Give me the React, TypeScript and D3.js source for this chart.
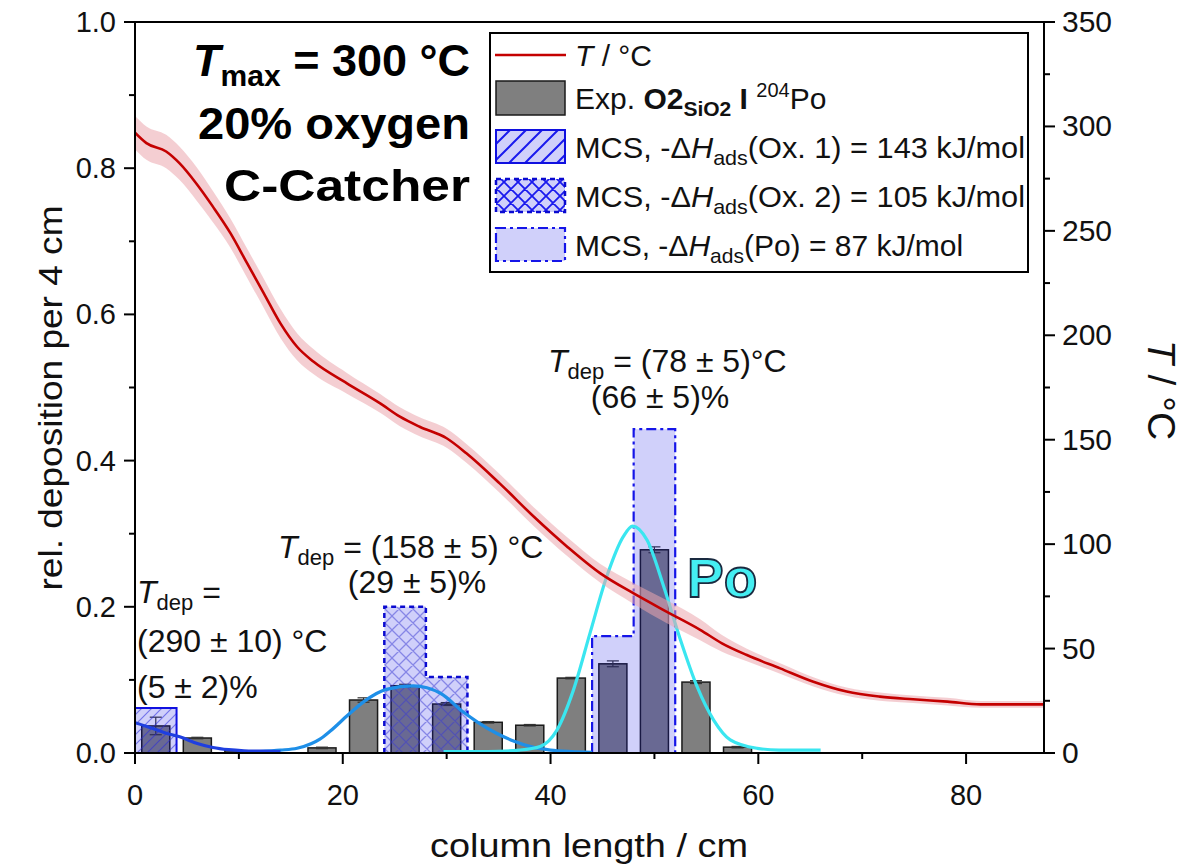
import React from 'react';
import * as d3 from 'd3';

// ---------- data ----------
const xTicks = [0, 20, 40, 60, 80];
const xMinorTicks = [10, 30, 50, 70];
const yTicks = [0, 0.2, 0.4, 0.6, 0.8, 1.0];
const yMinorTicks = [0.1, 0.3, 0.5, 0.7, 0.9];
const tTicks = [0, 50, 100, 150, 200, 250, 300, 350];
const tMinorTicks = [25, 75, 125, 175, 225, 275, 325];

const expCenters = [2, 6, 10, 18, 22, 26, 30, 34, 38, 42, 46, 50, 54, 58];
const expValues = [0.037, 0.0205, 0.003, 0.007, 0.0725, 0.092, 0.067, 0.042, 0.038, 0.1025, 0.122, 0.278, 0.097, 0.008];
const expErrors = [0.012, 0.001, 0, 0.001, 0.003, 0.002, 0.002, 0.001, 0.001, 0.001, 0.004, 0.004, 0.002, 0.001];

const binWidth = 4;
const ox1Starts = [0];
const ox1Values = [0.0616];
const ox2Starts = [24, 28];
const ox2Values = [0.2, 0.104];
const poStarts = [44, 48];
const poValues = [0.16, 0.443];

const tX = [0, 1.1, 3, 4.3, 5.9, 7.5, 9.2, 10.8, 12.4, 14, 15.6, 17.2, 20.4, 23.6, 25.5, 27.4, 30, 31.9, 35.1, 38.4, 41.6, 44.8, 48, 51.2, 54.4, 56.5, 58.9, 62.1, 65.3, 68.5, 71.7, 74.9, 78.2, 81.4, 84.6, 87.5];
const tY = [297, 292, 288, 282.3, 272.7, 261.6, 248.8, 234.4, 220.1, 205.7, 194.5, 187.3, 177, 167.4, 161, 156.2, 150.7, 143.5, 129.1, 113.1, 98.8, 86, 76.4, 67.6, 59, 52.5, 46.9, 40.5, 34.1, 29.4, 27, 25.7, 24.6, 23.3, 23.3, 23.3];
const tErr = [8, 8, 8, 8, 8, 7.5, 7, 7, 7, 7, 6.5, 6, 5, 4.5, 4.5, 4.5, 4.5, 4.5, 4.5, 4.5, 4.5, 4.5, 5, 5.5, 5, 4, 3, 2.5, 2.2, 2, 2, 1.8, 1.8, 1.6, 1.6, 1.6];

const ox1CurveX = [0, 1, 2, 3, 4.3, 6, 7.5, 9, 10.5, 12, 14];
const ox1CurveY = [0.0415, 0.037, 0.032, 0.027, 0.0222, 0.013, 0.0075, 0.0045, 0.003, 0.0025, 0.002];
const ox2CurveX = [12, 14, 15.6, 17, 17.8, 18.8, 20.5, 22, 24.2, 26.8, 29.4, 31.6, 33, 34.8, 36.5, 38, 40, 42, 44];
const ox2CurveY = [0.002, 0.004, 0.0065, 0.013, 0.019, 0.03, 0.052, 0.07, 0.087, 0.0917, 0.0817, 0.056, 0.042, 0.027, 0.016, 0.009, 0.004, 0.002, 0.001];
const poCurveX = [29.7, 34, 37, 39, 40.6, 42.2, 43.8, 45.4, 47, 47.9, 49.3, 50.9, 52.5, 54.1, 55.7, 57.3, 59.9, 62, 66];
const poCurveY = [0.002, 0.002, 0.004, 0.009, 0.031, 0.086, 0.164, 0.241, 0.296, 0.3105, 0.291, 0.2275, 0.155, 0.091, 0.045, 0.018, 0.0064, 0.004, 0.004];

// ---------- layout ----------
const W = 1185, H = 868;
const L = 135, R = 1044, T = 22, B = 753;
const FONT = "'Liberation Sans', Arial, Helvetica, sans-serif";
const NARROW = "'Liberation Sans Narrow', 'Liberation Sans', Arial, sans-serif";

const x = d3.scaleLinear().domain([0, 87.5]).range([L, R]);
const y = d3.scaleLinear().domain([0, 1]).range([B, T]);
const yT = d3.scaleLinear().domain([0, 350]).range([B, T]);

function stepPath(starts: number[], values: number[], closed: boolean) {
  const pts: [number, number][] = [];
  pts.push([starts[0], 0]);
  starts.forEach((s, i) => {
    pts.push([s, values[i]]);
    pts.push([s + binWidth, values[i]]);
  });
  pts.push([starts[starts.length - 1] + binWidth, 0]);
  const d = pts.map((p, i) => `${i ? 'L' : 'M'}${x(p[0])},${y(p[1])}`).join('');
  return closed ? d + 'Z' : d;
}

const curveLine = d3.line<[number, number]>().x(d => x(d[0])).y(d => y(d[1])).curve(d3.curveMonotoneX);
const zip = (a: number[], b: number[]) => a.map((v, i) => [v, b[i]] as [number, number]);

const tLine = d3.line<number>().x((_, i) => x(tX[i])).y((d) => yT(d)).curve(d3.curveMonotoneX);
const tArea = d3.area<number>().x((_, i) => x(tX[i])).y0((d, i) => yT(d - tErr[i])).y1((d, i) => yT(d + tErr[i])).curve(d3.curveMonotoneX);

const MCS_FILL = 'rgba(20,20,230,0.2)';

export default function App() {
  const expBarW = 2.7;
  return (
    <svg width={W} height={H} style={{ position: 'absolute', left: 0, top: 0, background: '#fff' }} fontFamily={FONT}>
      <defs>
        <clipPath id="plot"><rect x={L} y={T} width={R - L} height={B - T} /></clipPath>
        <pattern id="diag" patternUnits="userSpaceOnUse" width="10" height="10">
          <path d="M0,10 L10,0 M-2,2 L2,-2 M8,12 L12,8" stroke="rgba(40,40,220,0.55)" strokeWidth="1.2" />
        </pattern>
        <pattern id="cross" patternUnits="userSpaceOnUse" width="14" height="14">
          <path d="M0,14 L14,0 M-2,2 L2,-2 M12,16 L16,12 M0,0 L14,14 M-2,12 L2,16 M12,-2 L16,2" stroke="rgba(60,60,210,0.5)" strokeWidth="1.3" />
        </pattern>
        <pattern id="diagL" patternUnits="userSpaceOnUse" width="16" height="16">
          <path d="M0,16 L16,0 M-3,3 L3,-3 M13,19 L19,13" stroke="#1a1aee" strokeWidth="2" />
        </pattern>
        <pattern id="crossL" patternUnits="userSpaceOnUse" width="14" height="14">
          <path d="M0,14 L14,0 M-2,2 L2,-2 M12,16 L16,12 M0,0 L14,14 M-2,12 L2,16 M12,-2 L16,2" stroke="#1a1aee" strokeWidth="1.8" />
        </pattern>
      </defs>

      <g clipPath="url(#plot)">
        {/* experimental bars */}
        {expCenters.map((c, i) => (
          <rect key={'b' + i} x={x(c - expBarW / 2)} y={y(expValues[i])} width={x(c + expBarW / 2) - x(c - expBarW / 2)} height={B - y(expValues[i])} fill="#7f7f7f" stroke="#1a1a1a" strokeWidth={1.5} />
        ))}
        {expCenters.map((c, i) => expErrors[i] > 0 ? (
          <g key={'e' + i} stroke="#333" strokeWidth={1.2}>
            <line x1={x(c)} x2={x(c)} y1={y(expValues[i] - expErrors[i])} y2={y(expValues[i] + expErrors[i])} />
            <line x1={x(c) - 6} x2={x(c) + 6} y1={y(expValues[i] + expErrors[i])} y2={y(expValues[i] + expErrors[i])} />
            <line x1={x(c) - 6} x2={x(c) + 6} y1={y(expValues[i] - expErrors[i])} y2={y(expValues[i] - expErrors[i])} />
          </g>
        ) : null)}

        {/* MCS histograms */}
        <path d={stepPath(ox1Starts, ox1Values, true)} fill={MCS_FILL} />
        <path d={stepPath(ox1Starts, ox1Values, true)} fill="url(#diag)" />
        <path d={stepPath(ox1Starts, ox1Values, false)} fill="none" stroke="#1010e0" strokeWidth={2} />

        <path d={stepPath(ox2Starts, ox2Values, true)} fill={MCS_FILL} />
        <path d={stepPath(ox2Starts, ox2Values, true)} fill="url(#cross)" />
        <path d={stepPath(ox2Starts, ox2Values, false)} fill="none" stroke="#0a0ad0" strokeWidth={2.5} strokeDasharray="5,4" />

        <path d={stepPath(poStarts, poValues, true)} fill={MCS_FILL} />
        <path d={stepPath(poStarts, poValues, false)} fill="none" stroke="#1515e8" strokeWidth={2.2} strokeDasharray="10,4,3,4" />

        {/* fitted curves */}
        <path d={curveLine(zip(ox2CurveX, ox2CurveY)) || ''} fill="none" stroke="#1e8fe8" strokeWidth={3.2} />
        <path d={curveLine(zip(ox1CurveX, ox1CurveY)) || ''} fill="none" stroke="#1f3fe0" strokeWidth={3.2} />
        <path d={curveLine(zip(poCurveX, poCurveY)) || ''} fill="none" stroke="#3ae6f0" strokeWidth={3.2} />

        {/* temperature */}
        <path d={tArea(tY) || ''} fill="#eba5ad" opacity={0.55} />
        <path d={tLine(tY) || ''} fill="none" stroke="#c40000" strokeWidth={2.6} />
      </g>

      {/* frame */}
      <line x1={L} x2={R} y1={T} y2={T} stroke="#000" strokeWidth={2} />
      <line x1={L} x2={R} y1={B} y2={B} stroke="#000" strokeWidth={2} />
      <line x1={L} x2={L} y1={T} y2={B} stroke="#000" strokeWidth={2} />
      <line x1={R} x2={R} y1={T} y2={B} stroke="#000" strokeWidth={2} />

      {/* left axis */}
      {yTicks.map(v => (
        <g key={'yt' + v}>
          <line x1={L - 11} x2={L} y1={y(v)} y2={y(v)} stroke="#000" strokeWidth={2} />
          <text x={L - 19} y={y(v) + 10} textAnchor="end" fontSize={29} fill="#111">{v.toFixed(1)}</text>
        </g>
      ))}
      {yMinorTicks.map(v => (
        <line key={'ym' + v} x1={L - 6} x2={L} y1={y(v)} y2={y(v)} stroke="#000" strokeWidth={2} />
      ))}
      {/* right axis */}
      {tTicks.map(v => (
        <g key={'tt' + v}>
          <line x1={R} x2={R + 11} y1={yT(v)} y2={yT(v)} stroke="#000" strokeWidth={2} />
          <text x={R + 18} y={yT(v) + 10} textAnchor="start" fontSize={30} fill="#111">{v}</text>
        </g>
      ))}
      {tMinorTicks.map(v => (
        <line key={'tm' + v} x1={R} x2={R + 6} y1={yT(v)} y2={yT(v)} stroke="#000" strokeWidth={2} />
      ))}
      {/* bottom axis */}
      {xTicks.map(v => (
        <g key={'xt' + v}>
          <line x1={x(v)} x2={x(v)} y1={B} y2={B + 11} stroke="#000" strokeWidth={2} />
          <text x={x(v)} y={B + 52} textAnchor="middle" fontSize={29} fontFamily={NARROW} fill="#111">{v}</text>
        </g>
      ))}
      {xMinorTicks.map(v => (
        <line key={'xm' + v} x1={x(v)} x2={x(v)} y1={B} y2={B + 6} stroke="#000" strokeWidth={2} />
      ))}

      {/* axis titles */}
      <text x={589} y={857} textAnchor="middle" fontSize={34} fontFamily={NARROW} fill="#111" textLength={318} lengthAdjust="spacingAndGlyphs">column length / cm</text>
      <text transform="translate(62,398) rotate(-90)" textAnchor="middle" fontSize={34} fontFamily={NARROW} fill="#111" textLength={385} lengthAdjust="spacingAndGlyphs">rel. deposition per 4 cm</text>
      <text transform="translate(1148,390) rotate(90)" textAnchor="middle" fontSize={39} fontFamily={NARROW} fill="#111">
        <tspan fontStyle="italic">T</tspan> / °C
      </text>

      {/* top-left condition text */}
      <g fontWeight="bold" fontSize={45} fill="#000" textAnchor="end">
        <text x={470} y={76}><tspan fontStyle="italic">T</tspan><tspan fontSize={30} dy={10}>max</tspan><tspan dy={-10}> = 300 °C</tspan></text>
        <text x={470} y={139} textLength={272} lengthAdjust="spacingAndGlyphs">20% oxygen</text>
        <text x={470} y={201} textLength={246} lengthAdjust="spacingAndGlyphs">C-Catcher</text>
      </g>

      {/* legend */}
      <rect x={490} y={33} width={538} height={239} fill="#fff" stroke="#000" strokeWidth={2} />
      <line x1={495} x2={566} y1={55} y2={55} stroke="#c40000" strokeWidth={2.6} />
      <rect x={496} y={81} width={69} height={34} fill="#7f7f7f" stroke="#1a1a1a" strokeWidth={1.5} />
      <rect x={496} y={130} width={69} height={33} fill={MCS_FILL} />
      <rect x={496} y={130} width={69} height={33} fill="url(#diagL)" stroke="#1010e0" strokeWidth={2} />
      <rect x={496} y={179} width={69} height={33} fill={MCS_FILL} />
      <rect x={496} y={179} width={69} height={33} fill="url(#crossL)" stroke="#0a0ad0" strokeWidth={2.5} strokeDasharray="5,4" />
      <rect x={496} y={228} width={69} height={33} fill={MCS_FILL} stroke="#1515e8" strokeWidth={2.2} strokeDasharray="10,4,3,4" />
      <g fontSize={30} fill="#111">
        <text x={575} y={66}><tspan fontStyle="italic">T</tspan> / °C</text>
        <text x={575} y={109}>Exp. <tspan fontWeight="bold">O2</tspan><tspan fontWeight="bold" fontSize={21} dy={7}>SiO2</tspan><tspan dy={-7} fontWeight="bold"> I </tspan><tspan fontSize={20} dy={-12}>204</tspan><tspan dy={12}>Po</tspan></text>
        <text x={575} y={158} textLength={450} lengthAdjust="spacingAndGlyphs">MCS, -Δ<tspan fontStyle="italic">H</tspan><tspan fontSize={21} dy={7}>ads</tspan><tspan dy={-7}>(Ox. 1) = 143 kJ/mol</tspan></text>
        <text x={575} y={207} textLength={450} lengthAdjust="spacingAndGlyphs">MCS, -Δ<tspan fontStyle="italic">H</tspan><tspan fontSize={21} dy={7}>ads</tspan><tspan dy={-7}>(Ox. 2) = 105 kJ/mol</tspan></text>
        <text x={575} y={256}>MCS, -Δ<tspan fontStyle="italic">H</tspan><tspan fontSize={21} dy={7}>ads</tspan><tspan dy={-7}>(Po) = 87 kJ/mol</tspan></text>
      </g>

      {/* annotations */}
      <g fontSize={32} fill="#111">
        <text x={548} y={372}><tspan fontStyle="italic">T</tspan><tspan fontSize={22} dy={7}>dep</tspan><tspan dy={-7}> = (78 ± 5)°C</tspan></text>
        <text x={660} y={408} textAnchor="middle">(66 ± 5)%</text>
        <text x={278} y={558}><tspan fontStyle="italic">T</tspan><tspan fontSize={22} dy={7}>dep</tspan><tspan dy={-7}> = (158 ± 5) °C</tspan></text>
        <text x={417} y={593} textAnchor="middle">(29 ± 5)%</text>
        <text x={137} y={603}><tspan fontStyle="italic">T</tspan><tspan fontSize={22} dy={7}>dep</tspan><tspan dy={-7}> =</tspan></text>
        <text x={137} y={652}>(290 ± 10) °C</text>
        <text x={137} y={698}>(5 ± 2)%</text>
      </g>
      <text x={687} y={597} fontSize={55} fontWeight="bold" fill="#44eef2" stroke="#1a2a40" strokeWidth={1.8}>Po</text>
    </svg>
  );
}
